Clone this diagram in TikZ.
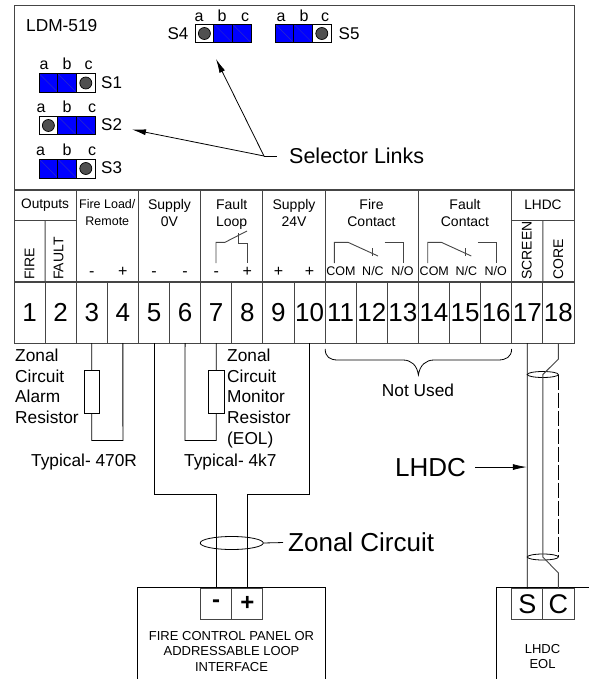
\documentclass[tikz,border=0pt]{standalone}
\usepackage{fontspec}
\setmainfont{Liberation Sans}
\usetikzlibrary{arrows.meta,shapes.geometric}
\definecolor{linegray}{HTML}{454545}
\definecolor{pinfill}{HTML}{505050}
\definecolor{linkdiag}{HTML}{2A2AC8}
\tikzset{
    outline/.style={draw=linegray, line width=1pt, inner sep=0pt, outer sep=0pt},
    termbox/.style={outline, line width=.8pt, minimum width=31.11pt, minimum height=61pt, font=\fontsize{26}{26}\selectfont},
    headbox/.style={outline, minimum width=62.22pt, minimum height=30pt, font=\fontsize{13.7}{16}\selectfont},
    headtext/.style={inner sep=0pt, align=center, anchor=north, font=\fontsize{14}{17}\selectfont},
    vertext/.style={inner sep=0pt, rotate=90, anchor=base west, font=\fontsize{14}{14}\selectfont},
    signtext/.style={inner sep=0pt, anchor=base, font=\fontsize{16}{16}\selectfont},
    contacttext/.style={inner sep=0pt, anchor=base, font=\fontsize{12.5}{12.5}\selectfont},
    notetext/.style={inner sep=0pt, anchor=base, font=\fontsize{17.3}{20.6}\selectfont},
    sidetext/.style={inner sep=0pt, align=left, anchor=north west, font=\fontsize{17.3}{20.6}\selectfont},
    paneltext/.style={inner sep=0pt, align=center, anchor=north, font=\fontsize{13}{15.6}\selectfont},
    wire/.style={draw=black, line width=.8pt},
    grayline/.style={draw=linegray, line width=.9pt},
    resistor/.style={draw=black, line width=.8pt, inner sep=0pt, outer sep=0pt, minimum width=15.5pt, minimum height=42.5pt},
    cablering/.style={draw=black, line width=.8pt, ellipse, inner sep=0pt, outer sep=0pt},
    portbox/.style={draw=linegray, line width=.8pt, inner sep=0pt, outer sep=0pt, minimum width=31.11pt, minimum height=31pt},
    opencell/.style={draw=black, line width=.7pt, fill=white, inner sep=0pt, outer sep=0pt, minimum width=18.7pt, minimum height=18.7pt,
        path picture={\draw[fill=pinfill, line width=.7pt] (path picture bounding box.center) circle (6);}},
    linkcell/.style={draw=black, line width=.7pt, fill=blue, inner sep=0pt, outer sep=0pt, minimum width=18.7pt, minimum height=18.7pt,
        path picture={\draw[linkdiag, line width=.5pt] (path picture bounding box.north west) -- (path picture bounding box.south east);}},
    switchtext/.style={inner sep=0pt, anchor=base, font=\fontsize{16}{16}\selectfont},
    switchname/.style={inner sep=0pt, font=\fontsize{17}{17}\selectfont}
}

\begin{document}
\begin{tikzpicture}[x=1pt,y=-1pt,>={Latex[length=14pt,width=6pt]}]
	\useasboundingbox (0,0) rectangle (589,679);

	\node[outline, minimum width=560pt, minimum height=337pt] (ldm) at (294,174.5) {};
	\node[inner sep=0pt, anchor=base west, font=\fontsize{17.3}{17.3}\selectfont] (ldmname) at (26,32) {LDM-519};

	\foreach \sw/\px/\py/\sa/\sb/\sc/\la/\lb/\lc/\ly in {
		S1/48.4/83/linkcell/linkcell/opencell/44/67/88.7/70,
		S2/48.4/125.5/opencell/linkcell/linkcell/41/67/92/113,
		S3/48.4/168.5/linkcell/linkcell/opencell/40.5/67/92/155.7,
		S4/204.4/33.5/opencell/linkcell/linkcell/199/222/245/21.5,
		S5/284.4/33.5/linkcell/linkcell/opencell/281/304/325/21.5}
	{
		\node[\sa] (\sw a) at (\px,\py) {};
		\node[\sb] (\sw b) at (\px+18.7,\py) {};
		\node[\sc] (\sw c) at (\px+37.4,\py) {};
		\node[switchtext] (\sw la) at (\la,\ly) {a};
		\node[switchtext] (\sw lb) at (\lb,\ly) {b};
		\node[switchtext] (\sw lc) at (\lc,\ly) {c};
	}
	\node[switchname, anchor=base west] (S1name) at (101,89) {S1};
	\node[switchname, anchor=base west] (S2name) at (101,131) {S2};
	\node[switchname, anchor=base west] (S3name) at (101,174) {S3};
	\node[switchname, anchor=base east] (S4name) at (188.5,40) {S4};
	\node[switchname, anchor=base west] (S5name) at (338.5,40) {S5};

	\node[inner sep=0pt, anchor=base west, font=\fontsize{21.5}{21.5}\selectfont] (lbllinks) at (289,164) {Selector Links};
	\coordinate (linkjoin) at (264,156);
	\coordinate (tipstwo) at (132,129.5);
	\coordinate (tipsfour) at (216,59);
	\draw[wire] (linkjoin) -- (277,156);
	\draw[wire,->] (linkjoin) -- (tipstwo);
	\draw[wire,->] (linkjoin) -- (tipsfour);

	\foreach \n in {1,...,18}
		\node[termbox] (t\n) at ({14+31.11*(\n-.5)},312.5) {\n};

	\draw[outline, line width=1.3pt] (14,190) -- (574,190);
	\draw[outline, line width=1.3pt] (t1.north west) -- (t18.north east);
	\foreach \n in {2,4,6,8,10,13,16}
		\draw[outline] (t\n.north east) -- ++(0,-92);

	\node[headbox] (houts) at (45.11,205) {Outputs};
	\node[headbox] (hlhdc) at (542.9,205) {LHDC};
	\draw[outline] (t1.north east) -- (houts.south);
	\draw[outline] (t17.north east) -- (hlhdc.south);

	\node[headtext, font=\fontsize{12.5}{17}\selectfont] (hload) at (107.3,199) {Fire Load/\\Remote};
	\node[headtext] (hzero) at (169.5,199) {Supply\\0V};
	\node[headtext] (hloop) at (231.7,199) {Fault\\Loop};
	\node[headtext] (hplus) at (294,199) {Supply\\24V};
	\node[headtext] (hfire) at (371.5,199) {Fire\\Contact};
	\node[headtext] (hfault) at (465,199) {Fault\\Contact};

	\node[vertext] (vfire) at (34.3,280) {FIRE};
	\node[vertext] (vfault) at (63.3,280) {FAULT};
	\node[vertext] (vscreen) at (531.7,280) {SCREEN};
	\node[vertext] (vcore) at (563,280) {CORE};

	\foreach \n/\sgn in {3/-,4/+,5/-,6/-,7/-,8/+,9/+,10/+}
		\node[signtext] (sign\n) at (t\n.center |- 0,276.5) {\sgn};

	\foreach \grp/\cx in {fire/0,fault/93.3}
	{
		\begin{scope}[xshift=\cx pt]
			\node[contacttext] (com\grp) at (341,275.7) {COM};
			\node[contacttext] (nc\grp) at (373,275.7) {N/C};
			\node[contacttext] (no\grp) at (402.5,275.7) {N/O};
			\draw[grayline] (334.4,263) |- (348,242.3) -- (378,256);
			\draw[grayline] (372.5,248) -- (372.5,256);
			\draw[grayline] (384.5,242.3) -| (403,263);
		\end{scope}
	}
	\draw[grayline] (216,263) |- (225,242.3) -- (247,231);
	\draw[grayline] (238,233) |- (247,243) -- (247,263);

	\node[resistor] (ralarm) at (91.8,392) {};
	\node[resistor] (rmon) at (216.2,392) {};
	\coordinate (ralow) at (122.9,440.5);
	\coordinate (rmlow) at (184.9,440.5);
	\draw[wire] (t3.south) -- (ralarm.north);
	\draw[wire] (ralarm.south) |- (ralow) -- (t4.south);
	\draw[wire] (t7.south) -- (rmon.north);
	\draw[wire] (rmon.south) |- (rmlow) -- (t6.south);

	\node[sidetext] (lblalarm) at (15,349) {Zonal\\Circuit\\Alarm\\Resistor};
	\node[sidetext] (lblmon) at (227,349) {Zonal\\Circuit\\Monitor\\Resistor\\(EOL)};
	\node[notetext, anchor=base west] (lbl470) at (31,466.7) {Typical- 470R};
	\node[notetext, anchor=base west] (lbl4k7) at (184,466.7) {Typical- 4k7};

	\draw[wire] (325.2,349) .. controls (325.2,357) and (330,360) .. (338,360) -- (403,360)
		.. controls (411,360) and (417,365) .. (418.4,375)
		.. controls (419.8,365) and (426,360) .. (434,360) -- (498,360)
		.. controls (506,360) and (511.6,357) .. (511.6,349);
	\node[notetext] (lblunused) at (418,396.7) {Not Used};

	\node[inner sep=0pt, minimum width=187pt, minimum height=91pt] (fcp) at (231.5,633.5) {};
	\draw[wire] (fcp.south west) |- (fcp.north east) -- (fcp.south east);
	\node[portbox, font=\bfseries\fontsize{24}{24}\selectfont] (neg) at (216.2,603.5) {-};
	\node[portbox, font=\bfseries\fontsize{24}{24}\selectfont] (pos) at (247.3,603.5) {+};
	\node[paneltext] (fcptext) at (231.5,631) {FIRE CONTROL PANEL OR\\ADDRESSABLE LOOP\\INTERFACE};

	\coordinate (zneg) at (216.2,494);
	\coordinate (zpos) at (247.3,494);
	\draw[wire] (t5.south) |- (zneg) -- (neg.north);
	\draw[wire] (t10.south) |- (zpos) -- (pos.north);
	\node[cablering, minimum width=63pt, minimum height=13pt] (zring) at (231.7,543) {};
	\node[inner sep=0pt, anchor=base west, font=\fontsize{26}{26}\selectfont] (lblzonal) at (288,551.7) {Zonal Circuit};
	\draw[wire, shorten >=5pt] (zring.east) -- (lblzonal.west);

	\node[inner sep=0pt, minimum width=92.5pt, minimum height=91pt] (eol) at (542.75,633.5) {};
	\draw[wire] (eol.south west) |- (eol.north east);
	\node[portbox, font=\fontsize{27}{27}\selectfont] (scr) at (527.3,604) {S};
	\node[portbox, font=\fontsize{27}{27}\selectfont] (cor) at (558.4,604) {C};
	\node[paneltext] (eoltext) at (542.5,644) {LHDC\\EOL};

	\node[cablering, minimum width=31.1pt, minimum height=6pt] (cabtop) at (542.85,374.5) {};
	\node[cablering, minimum width=31.1pt, minimum height=6pt] (cabbot) at (542.85,557) {};
	\coordinate (corea) at (558.4,359);
	\coordinate (coreb) at (558.4,573);
	\coordinate (cabline) at (526.8,0);
	\draw[wire] (t17.south) -- (scr.north);
	\draw[grayline] (t18.south) -- (corea) -- (cabtop.center) -- (cabbot.center) -- (coreb) -- (cor.north);
	\draw[wire, dash pattern=on 15pt off 3pt] (cabtop.east) -- (cabbot.east);

	\node[inner sep=0pt, anchor=base west, font=\fontsize{26}{26}\selectfont] (lbllhdc) at (395,476) {LHDC};
	\draw[wire, ->, shorten <=9pt] (lbllhdc.east) -- (lbllhdc.east -| cabline);
\end{tikzpicture}
\end{document}
